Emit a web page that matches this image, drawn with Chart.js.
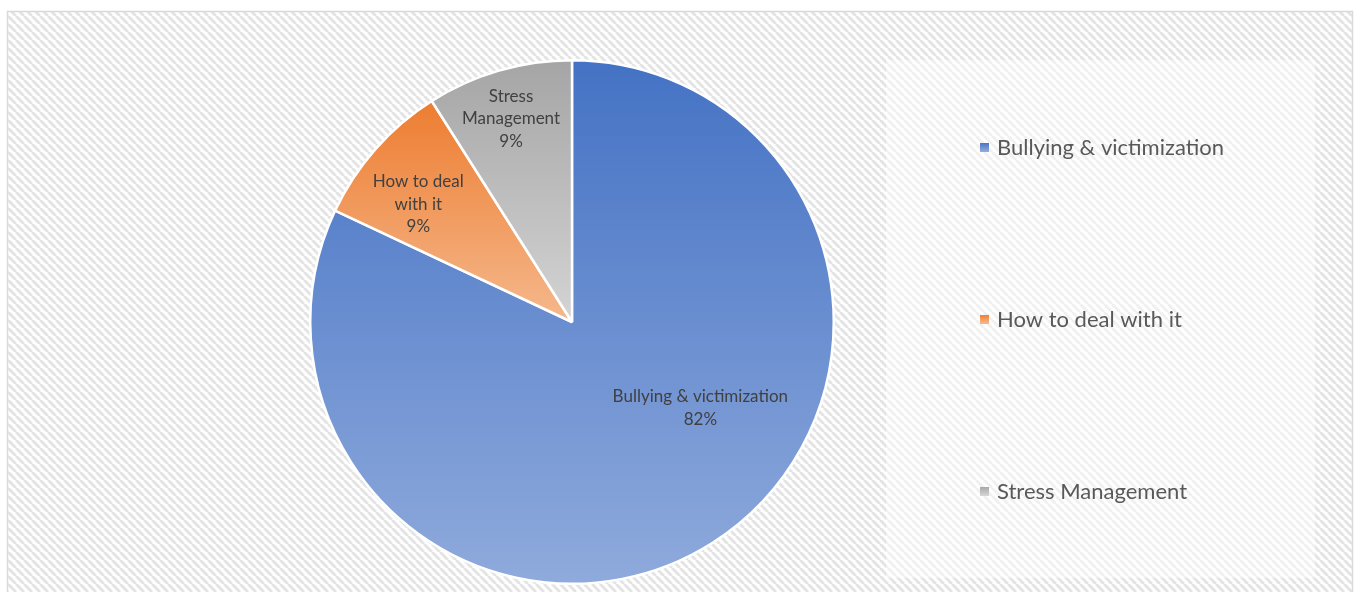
<!DOCTYPE html>
<html>
<head>
<meta charset="utf-8">
<script src="https://cdn.jsdelivr.net/npm/chart.js@4.4.0/dist/chart.umd.min.js"></script>
<style>
  html, body { margin: 0; padding: 0; background: #fff; }
  #wrap { width: 1360px; height: 592px; }
</style>
</head>
<body>
<div id="wrap"><canvas id="topicPie"></canvas></div>
<script>
const topics = ['Bullying & victimization', 'How to deal with it', 'Stress Management'];
const shares = [82, 9, 9];

// slice fills fade from the top colour to the bottom colour
const topColors = ['#4472C4', '#ED7D31', '#A5A5A5'];
const bottomColors = ['#8FAADC', '#F5B88C', '#D4D4D4'];

// where each data label sits: angle in degrees (clockwise from 3 o'clock), fraction of radius
const labelSpots = [
  { deg: 33.8, r: 0.59 },
  { deg: -142.5, r: 0.74 },
  { deg: -106.7, r: 0.81 }
];

const FONT = 'Lato, "Open Sans", sans-serif';

function stripePattern(ctx) {
  const tile = document.createElement('canvas');
  tile.width = 8; tile.height = 8;
  const t = tile.getContext('2d');
  t.fillStyle = '#ffffff';
  t.fillRect(0, 0, 8, 8);
  t.strokeStyle = '#e4e4e4';
  t.lineWidth = 3;
  for (const off of [-8, 0, 8]) {
    t.beginPath();
    t.moveTo(off, 0);
    t.lineTo(off + 8, 8);
    t.stroke();
  }
  return ctx.createPattern(tile, 'repeat');
}

function sliceFill(context) {
  const i = context.dataIndex;
  const arc = context.element;
  if (!arc || !arc.outerRadius) return topColors[i];
  const { x, y, startAngle, endAngle, outerRadius } = arc;
  let top = y, bottom = y;
  const check = a => {
    const py = y + outerRadius * Math.sin(a);
    top = Math.min(top, py);
    bottom = Math.max(bottom, py);
  };
  check(startAngle);
  check(endAngle);
  for (const a of [-Math.PI / 2, Math.PI / 2, 3 * Math.PI / 2]) {
    if (a >= startAngle - 1e-6 && a <= endAngle + 1e-6) check(a);
  }
  const g = context.chart.ctx.createLinearGradient(0, top, 0, bottom);
  g.addColorStop(0, topColors[i]);
  g.addColorStop(1, bottomColors[i]);
  return g;
}

const backdrop = {
  id: 'backdrop',
  beforeDraw(chart) {
    const c = chart.ctx;
    c.save();
    c.fillStyle = '#ffffff';
    c.fillRect(0, 0, chart.width, chart.height);
    c.fillStyle = stripePattern(c);
    c.fillRect(7, 11, 1346, 600);
    c.strokeStyle = '#d9d9d9';
    c.lineWidth = 1.5;
    c.strokeRect(7.5, 11.5, 1345, 600);
    // softened panel behind the legend
    c.fillStyle = 'rgba(255,255,255,0.45)';
    c.fillRect(886, 60, 429, 518);
    c.restore();
  }
};

function wrapText(c, text, maxWidth) {
  const words = text.split(' ');
  const lines = [];
  let line = '';
  for (const w of words) {
    const test = line ? line + ' ' + w : w;
    if (line && c.measureText(test).width > maxWidth) {
      lines.push(line);
      line = w;
    } else {
      line = test;
    }
  }
  lines.push(line);
  return lines;
}

const sliceLabels = {
  id: 'sliceLabels',
  afterDatasetsDraw(chart) {
    const c = chart.ctx;
    const meta = chart.getDatasetMeta(0);
    const data = chart.data.datasets[0].data;
    const total = data.reduce((s, v) => s + v, 0);
    c.save();
    c.font = '17px ' + FONT;
    c.fillStyle = '#404040';
    c.textAlign = 'center';
    c.textBaseline = 'middle';
    meta.data.forEach((arc, i) => {
      const spot = labelSpots[i];
      const a = spot.deg * Math.PI / 180;
      const px = arc.x + Math.cos(a) * arc.outerRadius * spot.r;
      const py = arc.y + Math.sin(a) * arc.outerRadius * spot.r;
      const pct = Math.round(data[i] / total * 100) + '%';
      const lines = wrapText(c, chart.data.labels[i], i === 0 ? 400 : 105).concat(pct);
      const lh = 22.5;
      const y0 = py - (lines.length - 1) * lh / 2;
      lines.forEach((ln, k) => c.fillText(ln, px, y0 + k * lh));
    });
    c.restore();
  }
};

const sideLegend = {
  id: 'sideLegend',
  afterDraw(chart) {
    const c = chart.ctx;
    const labels = chart.data.labels;
    const gap = 172;
    const midY = 319;
    const y0 = midY - (labels.length - 1) * gap / 2;
    c.save();
    c.font = '22px ' + FONT;
    c.textBaseline = 'middle';
    labels.forEach((lab, i) => {
      const y = y0 + i * gap;
      const g = c.createLinearGradient(0, y - 4.5, 0, y + 4.5);
      g.addColorStop(0, topColors[i]);
      g.addColorStop(1, bottomColors[i]);
      c.fillStyle = g;
      c.fillRect(980, y - 4, 9, 9);
      c.fillStyle = '#595959';
      c.fillText(lab, 997, y + 1);
    });
    c.restore();
  }
};

const pie = new Chart(document.getElementById('topicPie'), {
  type: 'pie',
  data: {
    labels: topics,
    datasets: [{
      data: shares,
      backgroundColor: sliceFill,
      borderColor: '#ffffff',
      borderWidth: 2.5
    }]
  },
  options: {
    responsive: true,
    maintainAspectRatio: false,
    animation: false,
    layout: { padding: { left: 309, right: 525, top: 59, bottom: 7 } },
    plugins: {
      legend: { display: false },
      tooltip: { enabled: false }
    }
  },
  plugins: [backdrop, sliceLabels, sideLegend]
});
// second pass so the gradients can read the laid-out arcs
pie.update();
</script>
</body>
</html>
